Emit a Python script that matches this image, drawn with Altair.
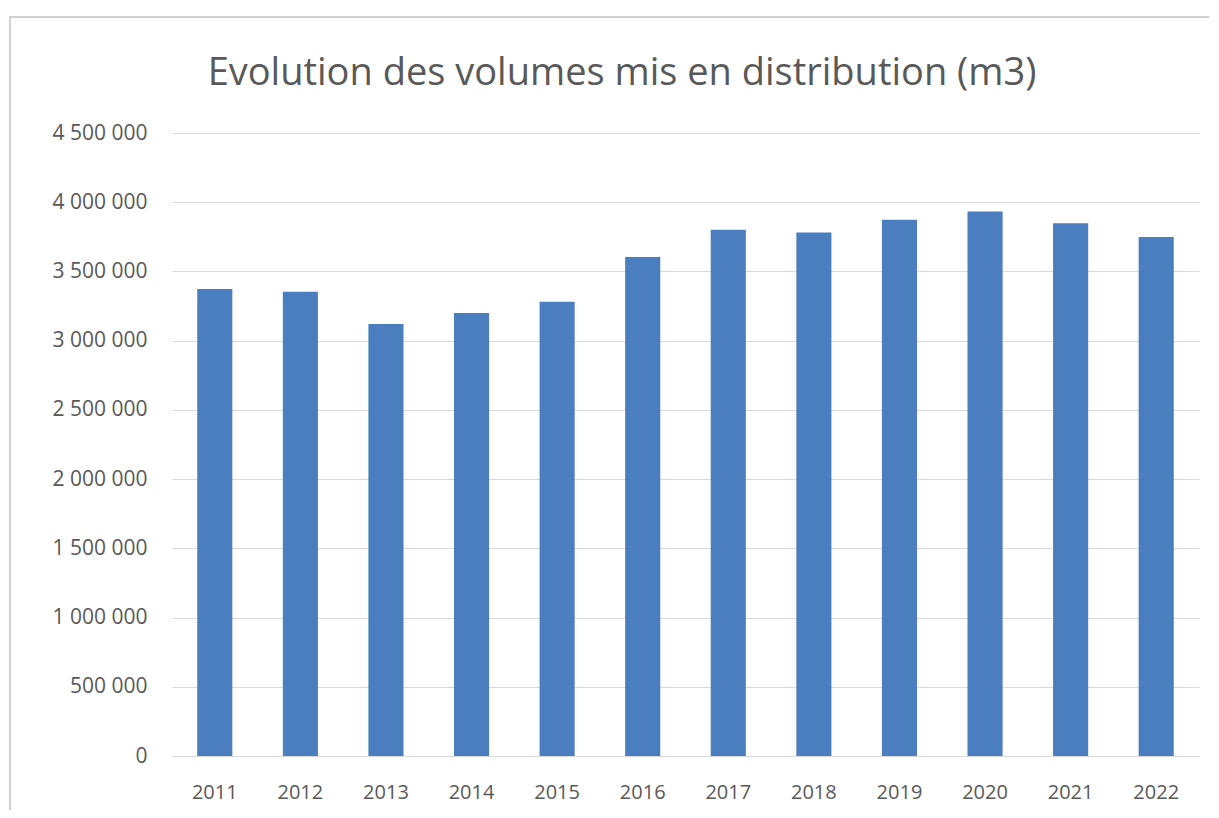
import altair as alt
import pandas as pd

years = ["2011", "2012", "2013", "2014", "2015", "2016", "2017", "2018", "2019", "2020", "2021", "2022"]
volumes = [3373000, 3354000, 3120000, 3199000, 3281000, 3605000, 3801000, 3781000, 3873000, 3933000, 3849000, 3748000]
y_ticks = [0, 500000, 1000000, 1500000, 2000000, 2500000, 3000000, 3500000, 4000000, 4500000]
title_text = "Evolution des volumes mis en distribution (m3)"

df = pd.DataFrame({"year": years, "volume": volumes})

FONT = "Open Sans"
TXT = "#595959"

bars = alt.Chart(df).mark_bar(color="#4a7ebf").encode(
    x=alt.X("year:N", sort=years, title=None,
            scale=alt.Scale(paddingInner=0.59, paddingOuter=0.295),
            axis=alt.Axis(labelAngle=0, labelFont=FONT, labelFontSize=20, labelColor=TXT,
                          ticks=False, domainColor="#d9d9d9", labelPadding=26)),
    y=alt.Y("volume:Q", title=None,
            scale=alt.Scale(domain=[0, 4500000], nice=False),
            axis=alt.Axis(values=y_ticks, labelFont=FONT, labelFontSize=21, labelColor=TXT,
                          ticks=False, domain=False, gridColor="#d9d9d9", labelPadding=25,
                          labelExpr="replace(format(datum.value, ','), /,/g, ' ')")),
)

frame = alt.Chart(df).mark_rect(filled=False, stroke="#d0d0d0", strokeWidth=2).encode(
    x=alt.value(-162), x2=alt.value(1300), y=alt.value(-116), y2=alt.value(900)
)

title = alt.Chart(pd.DataFrame({"t": [title_text]})).mark_text(
    font=FONT, fontSize=38, color=TXT, align="center", baseline="alphabetic"
).encode(text="t:N", x=alt.value(450), y=alt.value(-48))

chart = alt.layer(frame, bars, title).properties(
    width=1027, height=623,
    autosize=alt.AutoSizeParams(type="none"),
    padding={"left": 164, "top": 125, "right": 10, "bottom": 54},
).configure_view(stroke=None)

chart.save("out.html", embed_options={"renderer": "svg", "actions": False})
